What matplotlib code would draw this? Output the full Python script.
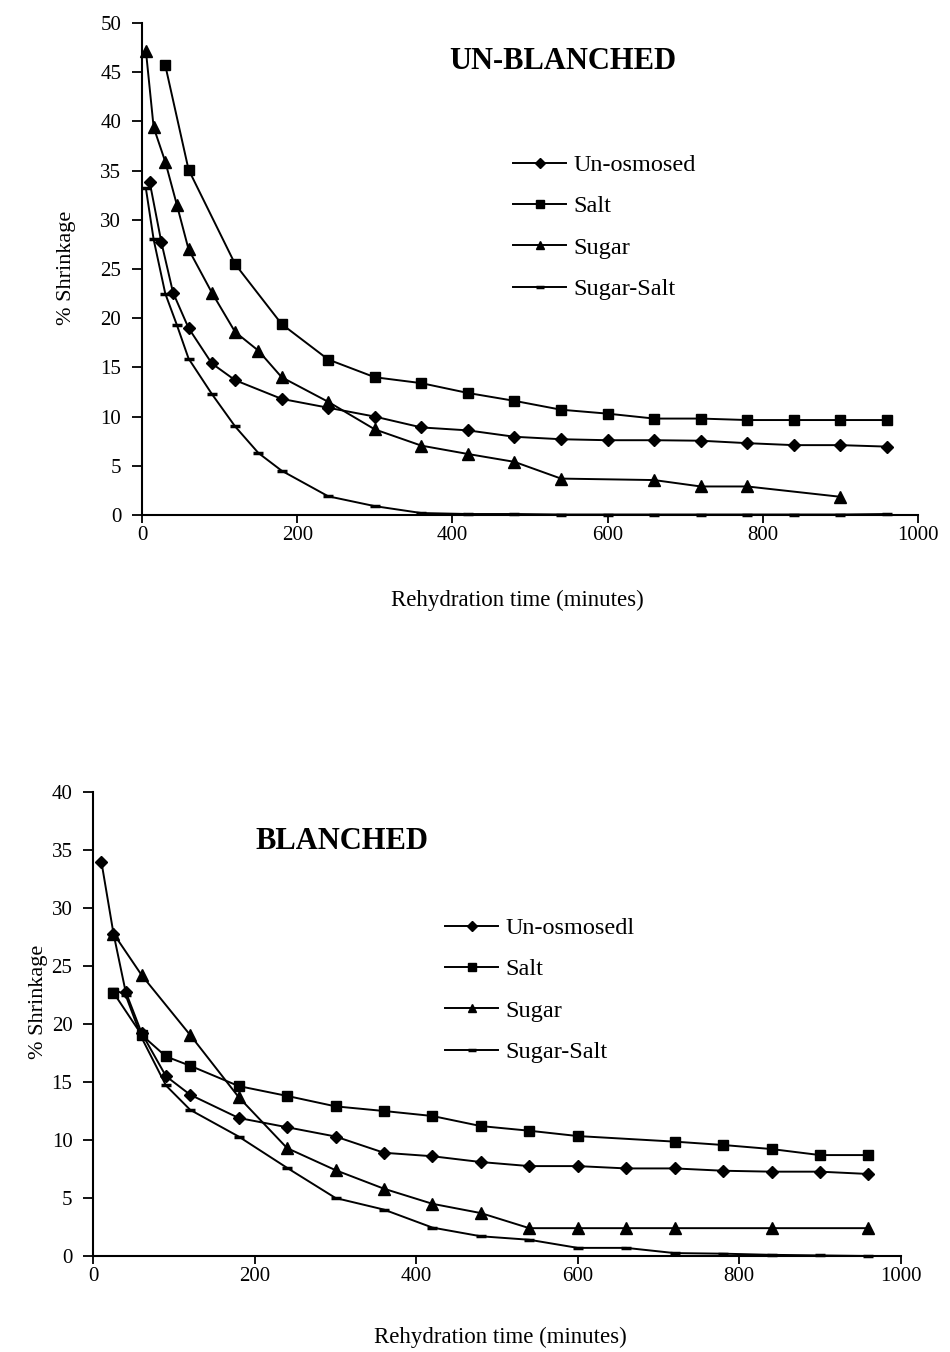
import matplotlib
matplotlib.use("Agg")
import matplotlib.pyplot as plt

plt.rcParams['font.family'] = ['Liberation Serif', 'DejaVu Serif']

# ---- Un-blanched samples: rehydration time (min) and % shrinkage ----
ub_unosm_t = [10, 25, 40, 60, 90, 120, 180, 240, 300, 360, 420, 480, 540, 600, 660, 720, 780, 840, 900, 960]
ub_unosm = [33.8, 27.7, 22.6, 19.0, 15.4, 13.7, 11.8, 10.9, 10.0, 8.9, 8.6, 7.95, 7.7, 7.6, 7.6, 7.55, 7.3, 7.1, 7.1, 6.95]

ub_salt_t = [30, 60, 120, 180, 240, 300, 360, 420, 480, 540, 600, 660, 720, 780, 840, 900, 960]
ub_salt = [45.7, 35.1, 25.5, 19.4, 15.8, 14.0, 13.4, 12.4, 11.6, 10.7, 10.3, 9.8, 9.8, 9.65, 9.65, 9.65, 9.65]

ub_sugar_t = [5, 15, 30, 45, 60, 90, 120, 150, 180, 240, 300, 360, 420, 480, 540, 660, 720, 780, 900]
ub_sugar = [47.2, 39.4, 35.9, 31.5, 27.0, 22.6, 18.6, 16.7, 14.0, 11.5, 8.7, 7.05, 6.2, 5.4, 3.7, 3.55, 2.9, 2.9, 1.85]

ub_sugsalt_t = [5, 15, 30, 45, 60, 90, 120, 150, 180, 240, 300, 360, 420, 480, 540, 600, 660, 720, 780, 840, 900, 960]
ub_sugsalt = [33.2, 28.0, 22.5, 19.3, 15.9, 12.3, 9.0, 6.3, 4.5, 1.9, 0.9, 0.2, 0.1, 0.1, 0.05, 0.05, 0.05, 0.05, 0.05, 0.05, 0.05, 0.1]

# ---- Blanched samples ----
b_unosm_t = [10, 25, 40, 60, 90, 120, 180, 240, 300, 360, 420, 480, 540, 600, 660, 720, 780, 840, 900, 960]
b_unosm = [34.0, 27.8, 22.8, 19.2, 15.5, 13.9, 11.9, 11.1, 10.3, 8.9, 8.6, 8.1, 7.75, 7.75, 7.55, 7.55, 7.35, 7.27, 7.27, 7.07]

b_salt_t = [25, 60, 90, 120, 180, 240, 300, 360, 420, 480, 540, 600, 720, 780, 840, 900, 960]
b_salt = [22.7, 19.05, 17.2, 16.4, 14.65, 13.8, 12.9, 12.5, 12.07, 11.2, 10.8, 10.34, 9.86, 9.57, 9.22, 8.7, 8.7]

b_sugar_t = [25, 60, 120, 180, 240, 300, 360, 420, 480, 540, 600, 660, 720, 840, 960]
b_sugar = [27.8, 24.2, 19.05, 13.7, 9.3, 7.4, 5.8, 4.5, 3.7, 2.4, 2.4, 2.4, 2.4, 2.4, 2.4]

b_sugsalt_t = [25, 40, 60, 90, 120, 180, 240, 300, 360, 420, 480, 540, 600, 660, 720, 780, 840, 900, 960]
b_sugsalt = [23.0, 22.5, 18.8, 14.7, 12.6, 10.3, 7.6, 5.0, 4.0, 2.45, 1.7, 1.4, 0.7, 0.7, 0.25, 0.2, 0.1, 0.05, 0.0]

x_ticks = [0, 200, 400, 600, 800, 1000]
top_labels = ["Un-osmosed", "Salt", "Sugar", "Sugar-Salt"]
bottom_labels = ["Un-osmosedl", "Salt", "Sugar", "Sugar-Salt"]

W, H = 950, 1352
fig = plt.figure(figsize=(W / 100, H / 100), dpi=100)
fig.patch.set_facecolor("white")

styles = [
    dict(marker="D", markersize=6.5),
    dict(marker="s", markersize=7.5),
    dict(marker="^", markersize=8),
    dict(marker="_", markersize=7, markeredgewidth=2.5),
]


def panel(rect, series, labels, ymax, title, title_xy, legend_xy, xlabel_xy, ylabel_xy):
    ax = fig.add_axes(rect)
    handles = []
    for (t, v), lab, st in zip(series, labels, styles):
        h, = ax.plot(t, v, color="black", lw=1.4, markerfacecolor="black",
                     markeredgecolor="black", clip_on=False, label=lab, **st)
        handles.append(h)
    ax.set_xlim(0, 1000)
    ax.set_ylim(0, ymax)
    ax.set_xticks(x_ticks)
    ax.set_yticks(range(0, ymax + 1, 5))
    for s in ("top", "right"):
        ax.spines[s].set_visible(False)
    for s in ("left", "bottom"):
        ax.spines[s].set_linewidth(1.5)
    ax.tick_params(axis="x", direction="out", length=6, width=1.3, pad=2, labelsize=15)
    ax.tick_params(axis="y", direction="out", length=7, width=1.3, pad=8, labelsize=15)
    ax.text(title_xy[0], title_xy[1], title, transform=ax.transAxes, ha="center",
            va="center", fontsize=22, fontweight="bold")
    ax.legend(handles=handles, loc="upper left",
              bbox_to_anchor=(legend_xy[0] / W, 1 - legend_xy[1] / H),
              bbox_transform=fig.transFigure, frameon=False, fontsize=17.5,
              borderpad=0, borderaxespad=0, handlelength=2.2, handletextpad=0.3,
              labelspacing=0.8, markerscale=0.8)
    fig.text(xlabel_xy[0] / W, 1 - xlabel_xy[1] / H, "Rehydration time (minutes)",
             ha="center", va="center", fontsize=16.5)
    fig.text(ylabel_xy[0] / W, 1 - ylabel_xy[1] / H, "% Shrinkage", rotation=90,
             ha="center", va="center", fontsize=16)
    return ax


panel([142 / W, 1 - 515 / H, 776 / W, 492 / H],
      [(ub_unosm_t, ub_unosm), (ub_salt_t, ub_salt), (ub_sugar_t, ub_sugar),
       (ub_sugsalt_t, ub_sugsalt)],
      top_labels, 50, "UN-BLANCHED", (0.5425, 0.921), (513, 154), (517, 600), (67, 268))

panel([93.3 / W, 1 - 1256 / H, 807.4 / W, 464 / H],
      [(b_unosm_t, b_unosm), (b_salt_t, b_salt), (b_sugar_t, b_sugar),
       (b_sugsalt_t, b_sugsalt)],
      bottom_labels, 40, "BLANCHED", (0.3077, 0.894), (445, 917), (500, 1337), (38, 1002))

fig.savefig("out.png", dpi=100, facecolor="white")
